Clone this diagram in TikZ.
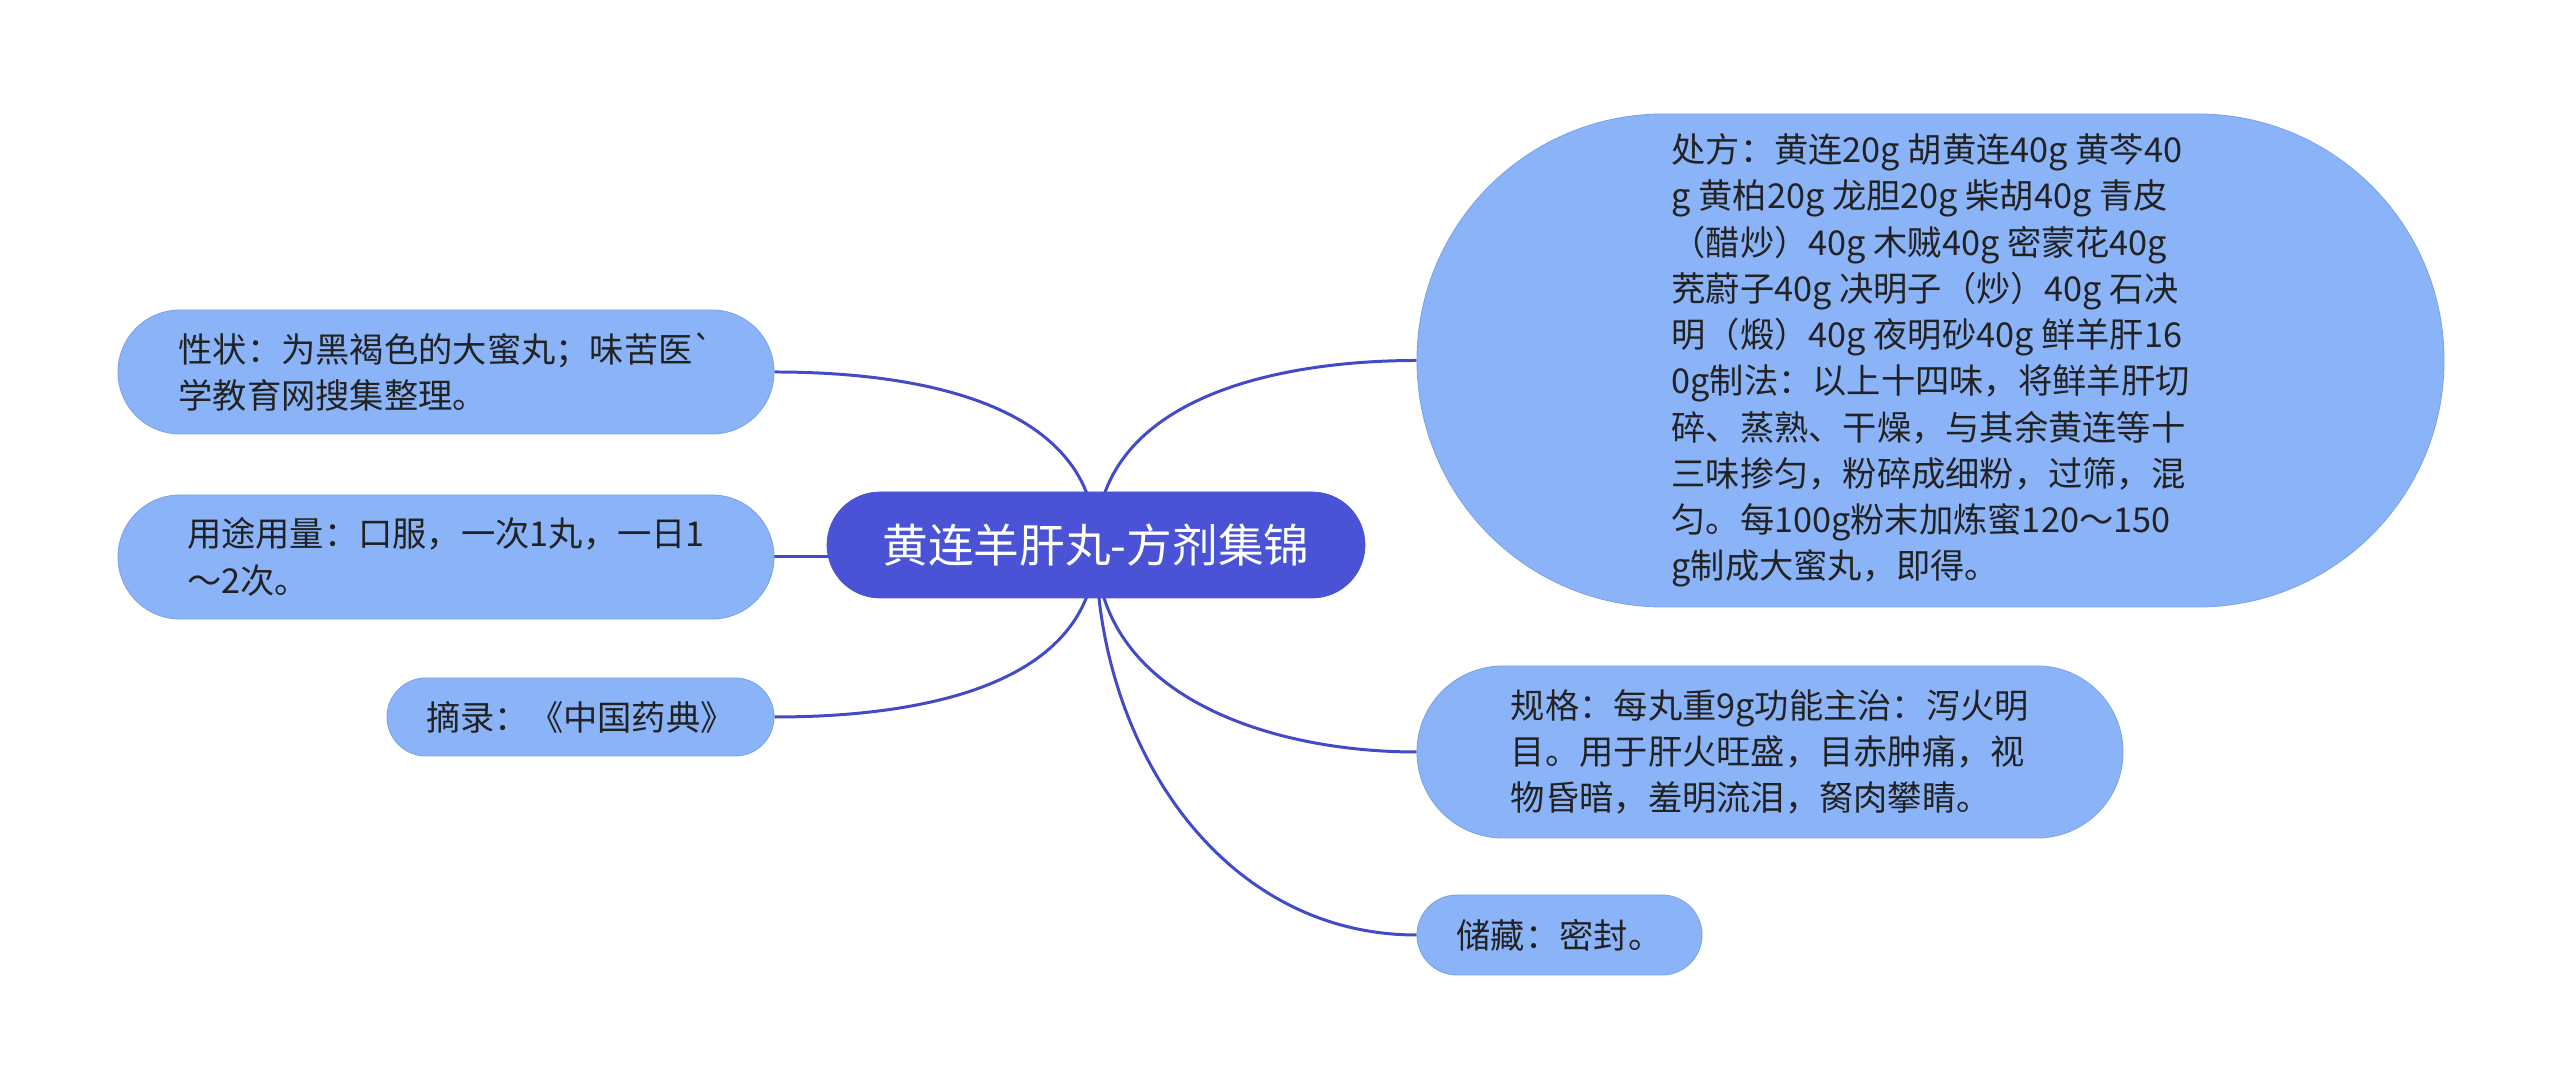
\documentclass[tikz,border=0pt]{standalone}
\usepackage{fontspec}
\setmainfont{Noto Sans CJK SC}
\usepackage{xcolor}
\usepackage{tikz}
\usetikzlibrary{shapes.misc,backgrounds}
\definecolor{ctrblue}{RGB}{74,83,214}
\definecolor{lnblue}{RGB}{66,74,200}
\definecolor{leafblue}{RGB}{139,180,248}
\definecolor{leafedge}{RGB}{122,162,236}
\definecolor{txtdark}{RGB}{34,34,34}

\begin{document}
\begin{tikzpicture}[
  leaf/.style={shape=rounded rectangle,fill=leafblue,draw=leafedge,line width=0.5pt,
    text=txtdark,align=left,inner sep=0pt,font=\fontsize{19.5pt}{26.3pt}\selectfont},
  hub/.style={shape=rounded rectangle,fill=ctrblue,draw=ctrblue,text=white,inner sep=0pt,
    font=\fontsize{26pt}{30pt}\selectfont},
  branch/.style={draw=lnblue,line width=1.7pt}]
\useasboundingbox(0,0)rectangle(51.2,21.8);
\node[hub,minimum width=10.76cm,minimum height=2.12cm](ctr)at(21.92,10.90){黄连羊肝丸-方剂集锦};
%right side
\node[leaf,minimum width=20.54cm,minimum height=9.86cm](rx)at(38.61,14.59){处方：黄连20g 胡黄连40g 黄芩40\\
g 黄柏20g 龙胆20g 柴胡40g 青皮\\
（醋炒）40g 木贼40g 密蒙花40g\\
茺蔚子40g 决明子（炒）40g 石决\\
明（煅）40g 夜明砂40g 鲜羊肝16\\
0g制法：以上十四味，将鲜羊肝切\\
碎、蒸熟、干燥，与其余黄连等十\\
三味掺匀，粉碎成细粉，过筛，混\\
匀。每100g粉末加炼蜜120～150\\
g制成大蜜丸，即得。};
\node[leaf,minimum width=14.12cm,minimum height=3.44cm](gg)at(35.40,6.76){规格：每丸重9g功能主治：泻火明\\
目。用于肝火旺盛，目赤肿痛，视\\
物昏暗，羞明流泪，胬肉攀睛。};
\node[leaf,minimum width=5.70cm,minimum height=1.60cm](cc)at(31.19,3.10){储藏：密封。};
%left side
\node[leaf,minimum width=13.12cm,minimum height=2.48cm](xz)at(8.92,14.36){性状：为黑褐色的大蜜丸；味苦医\textasciigrave\\
学教育网搜集整理。};
\node[leaf,minimum width=13.12cm,minimum height=2.48cm](yt)at(8.92,10.66){用途用量：口服，一次1丸，一日1\\
～2次。};
\node[leaf,minimum width=7.74cm,minimum height=1.56cm](zl)at(11.61,7.46){摘录：《中国药典》};
\begin{scope}[on background layer]
\draw[branch](ctr.center)to[out=90,in=180](rx.west);
\draw[branch](ctr.center)to[out=-90,in=180](gg.west);
\draw[branch](ctr.center)to[out=-90,in=180](cc.west);
\draw[branch](ctr.center)to[out=90,in=0](xz.east);
\draw[branch](ctr.center|-yt.east)--(yt.east);
\draw[branch](ctr.center)to[out=-90,in=0](zl.east);
\end{scope}
\end{tikzpicture}
\end{document}
